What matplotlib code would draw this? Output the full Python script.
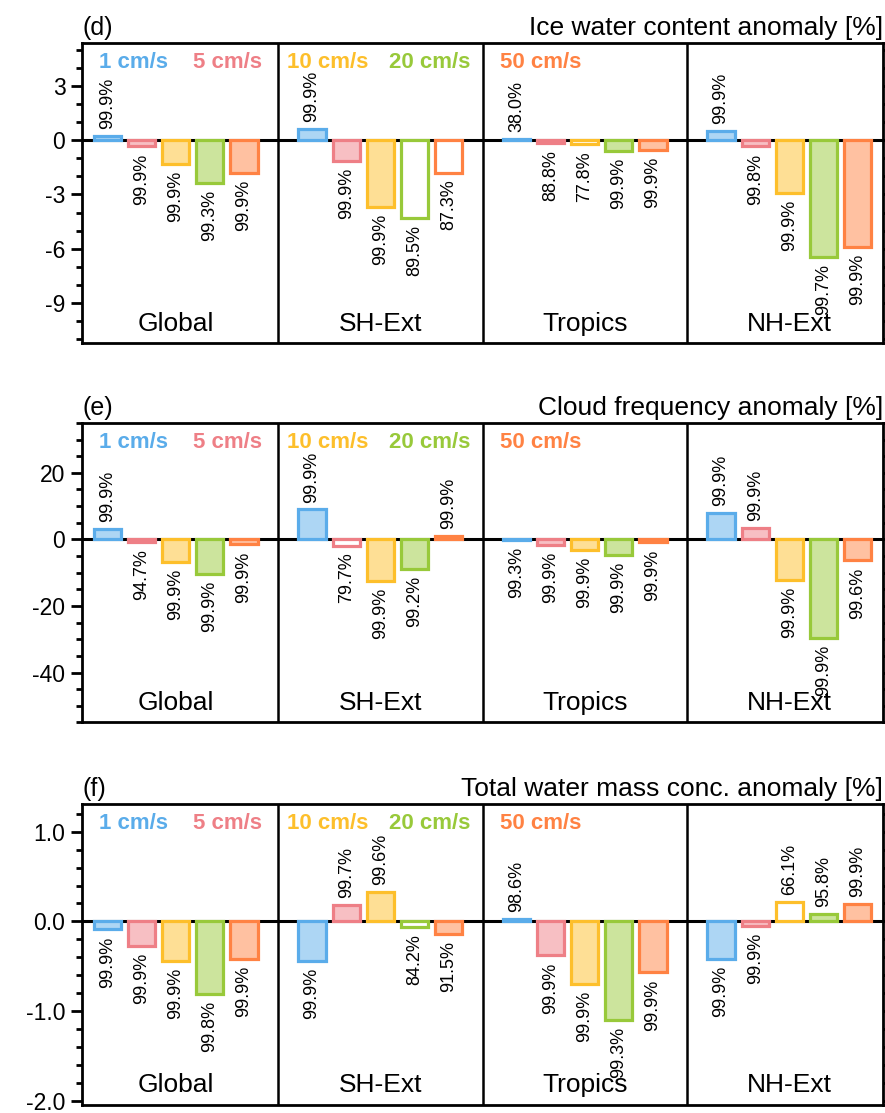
import numpy as np
import matplotlib
matplotlib.use('Agg')
import matplotlib.pyplot as plt
from matplotlib.colors import to_rgb
from matplotlib.ticker import MultipleLocator

plt.rcParams['font.family'] = ['Liberation Sans', 'DejaVu Sans']
plt.rcParams['axes.unicode_minus'] = False

# ---- data -------------------------------------------------------------
regions = ['Global', 'SH-Ext', 'Tropics', 'NH-Ext']
speeds = ['1 cm/s', '5 cm/s', '10 cm/s', '20 cm/s', '50 cm/s']
edge_colors = ['#5aacea', '#ee7f86', '#fdbf2b', '#98c93a', '#ff8243']

# (d) ice water content anomaly [%], one row per region, one column per speed
ice_vals = [[0.25, -0.35, -1.33, -2.35, -1.8],
            [0.62, -1.13, -3.68, -4.28, -1.8],
            [0.05, -0.18, -0.22, -0.6, -0.52],
            [0.53, -0.35, -2.9, -6.46, -5.9]]
ice_conf = [[99.9, 99.9, 99.9, 99.3, 99.9],
            [99.9, 99.9, 99.9, 89.5, 87.3],
            [38.0, 88.8, 77.8, 99.9, 99.9],
            [99.9, 99.8, 99.9, 99.7, 99.9]]

# (e) cloud frequency anomaly [%]
cf_vals = [[3.2, -0.8, -6.7, -10.4, -1.5],
           [9.0, -1.9, -12.4, -8.9, 1.0],
           [-0.3, -1.6, -3.1, -4.7, -0.9],
           [8.0, 3.3, -12.1, -29.6, -6.3]]
cf_conf = [[99.9, 94.7, 99.9, 99.9, 99.9],
           [99.9, 79.7, 99.9, 99.2, 99.9],
           [99.3, 99.9, 99.9, 99.9, 99.9],
           [99.9, 99.9, 99.9, 99.9, 99.6]]

# (f) total water mass concentration anomaly [%]
tw_vals = [[-0.09, -0.27, -0.44, -0.81, -0.42],
           [-0.44, 0.18, 0.33, -0.06, -0.14],
           [0.03, -0.38, -0.70, -1.10, -0.57],
           [-0.42, -0.055, 0.22, 0.085, 0.19]]
tw_conf = [[99.9, 99.9, 99.9, 99.8, 99.9],
           [99.9, 99.7, 99.6, 84.2, 91.5],
           [98.6, 99.9, 99.9, 99.3, 99.9],
           [99.9, 99.9, 66.1, 95.8, 99.9]]

panels = [
    dict(tag='(d)', title='Ice water content anomaly [%]', vals=ice_vals, conf=ice_conf,
         ylim=(-11.2, 5.36), major=[3, 0, -3, -6, -9], labels=['3', '0', '-3', '-6', '-9'], minor=1),
    dict(tag='(e)', title='Cloud frequency anomaly [%]', vals=cf_vals, conf=cf_conf,
         ylim=(-55, 35), major=[20, 0, -20, -40], labels=['20', '0', '-20', '-40'], minor=5),
    dict(tag='(f)', title='Total water mass conc. anomaly [%]', vals=tw_vals, conf=tw_conf,
         ylim=(-2.05, 1.31), major=[1.0, 0.0, -1.0, -2.0], labels=['1.0', '0.0', '-1.0', '-2.0'], minor=0.2),
]


def lighten(c, f=0.5):
    r = np.array(to_rgb(c))
    return tuple(1 - (1 - r) * f)


fig = plt.figure(figsize=(8.85, 11.13), dpi=100)
ax_rects = [[0.0927, 0.6918, 0.905, 0.2695],
            [0.0927, 0.3509, 0.905, 0.2691],
            [0.0927, 0.0072, 0.905, 0.2704]]

# legend text placement (data x) within the top of the panels
legend_x = [1.75, 4.53, 7.45, 10.46, 13.71]

for p, rect in zip(panels, ax_rects):
    ax = fig.add_axes(rect)
    ax.set_xlim(0.25, 23.75)
    ax.set_ylim(*p['ylim'])

    ax.axhline(0, color='black', lw=2.2, zorder=1)
    for xb in (6, 12, 18):
        ax.axvline(xb, color='black', lw=1.8, zorder=1)

    for r in range(len(regions)):
        for s in range(len(speeds)):
            x = 1 + r * 6 + s
            v = p['vals'][r][s]
            c = p['conf'][r][s]
            face = 'white' if c < 90 else lighten(edge_colors[s], 0.5)
            ax.bar(x, v, width=0.8, color=face, edgecolor=edge_colors[s],
                   linewidth=2.3, zorder=3)
            if v >= 0:
                ax.annotate(f'{c:.1f}%', (x, v), xytext=(0, 5), textcoords='offset points',
                            rotation=90, ha='center', va='bottom', fontsize=13)
            else:
                ax.annotate(f'{c:.1f}%', (x, v), xytext=(0, -5), textcoords='offset points',
                            rotation=90, ha='center', va='top', fontsize=13)
        ax.text(3 + r * 6, 0.025, regions[r], transform=ax.get_xaxis_transform(),
                ha='center', va='bottom', fontsize=19)

    for s, name in enumerate(speeds):
        ax.text(legend_x[s], 0.935, name, transform=ax.get_xaxis_transform(),
                ha='center', va='center', fontsize=16, fontweight='bold',
                color=edge_colors[s])

    ax.set_xticks([])
    ax.set_yticks(p['major'])
    ax.set_yticklabels(p['labels'])
    ax.yaxis.set_minor_locator(MultipleLocator(p['minor']))
    ax.tick_params(axis='y', which='major', direction='out', length=8, width=2,
                   labelsize=16.5, right=True, pad=4)
    ax.tick_params(axis='y', which='minor', direction='out', length=4.5, width=2, right=True)
    for sp in ax.spines.values():
        sp.set_linewidth(2)

    ax.set_title(p['tag'], loc='left', fontsize=18, pad=6)
    ax.set_title(p['title'], loc='right', fontsize=19, pad=6)

fig.savefig('out.png', dpi=100)
